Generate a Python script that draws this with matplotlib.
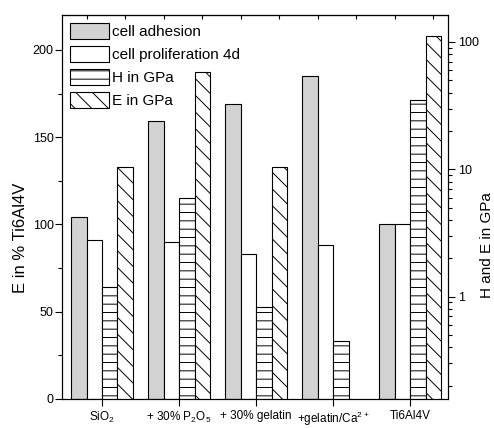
import numpy as np
import matplotlib.pyplot as plt
from matplotlib.patches import Patch
from matplotlib.ticker import MultipleLocator, LogLocator, NullFormatter

plt.rcParams["font.family"] = ["Liberation Sans", "DejaVu Sans"]
plt.rcParams["hatch.linewidth"] = 0.7
plt.rcParams["mathtext.fontset"] = "custom"
plt.rcParams["mathtext.rm"] = "Liberation Sans"

# data
groups = [r"SiO$_2$", r"+ 30% P$_2$O$_5$", "+ 30% gelatin", r"+gelatin/Ca$^{2+}$", "Ti6Al4V"]
adhesion = [104, 159, 169, 185, 100]          # % Ti6Al4V (left axis)
prolif_4d = [91, 90, 83, 88, 100]             # % Ti6Al4V (left axis)
hardness = [1.2, 5.9, 0.83, 0.45, 35]         # GPa (right, log)
modulus = [10.4, 58, 10.4, np.nan, 111]       # GPa (right, log)

x = np.arange(1, len(groups) + 1)
w = 0.2
right_lim = (0.157, 163)

fig = plt.figure(figsize=(4.94, 4.28), dpi=100)
ax = fig.add_axes([0.1255, 0.0678, 0.7815, 0.8972])
ax2 = ax.twinx()

ax.bar(x - 1.5 * w, adhesion, w, color="#d2d2d2", edgecolor="black", lw=0.8, zorder=2)
ax.bar(x - 0.5 * w, prolif_4d, w, color="white", edgecolor="black", lw=0.8, zorder=2)

ax2.set_yscale("log")
ax2.bar(x + 0.5 * w, np.array(hardness) - right_lim[0], w, bottom=right_lim[0],
        color="white", edgecolor="black", hatch="--", lw=0.8)
ax2.bar(x + 1.5 * w, np.array(modulus) - right_lim[0], w, bottom=right_lim[0],
        color="white", edgecolor="black", hatch="\\\\", lw=0.8)

ax.set_xlim(0.48, 5.49)
ax.set_ylim(0, 220)
ax2.set_ylim(*right_lim)

ax.set_xticks(x)
ax.set_xticklabels(groups, fontsize=8.5)
ax.tick_params(axis="x", direction="out", length=5, width=0.8, pad=3)
ax.yaxis.set_major_locator(MultipleLocator(50))
ax.yaxis.set_minor_locator(MultipleLocator(25))
ax.tick_params(axis="y", which="major", direction="out", length=5, width=0.8, labelsize=9, pad=1)
ax.tick_params(axis="y", which="minor", direction="out", length=3, width=0.8)

ax2.yaxis.set_minor_locator(LogLocator(base=10, subs=np.arange(2, 10), numticks=20))
ax2.yaxis.set_minor_formatter(NullFormatter())
ax2.set_yticks([1, 10, 100])
ax2.set_yticklabels(["1", "10", "100"])
ax2.tick_params(axis="y", which="major", direction="out", length=5, width=0.8, labelsize=9, pad=2)
ax2.tick_params(axis="y", which="minor", direction="out", length=3, width=0.8)

# top inward ticks
top = ax.secondary_xaxis("top")
top.set_xticks(np.arange(0.8, 5.4, 0.5), labels=[])
top.tick_params(direction="in", length=3, width=0.8)

for a in (ax, ax2):
    for s in a.spines.values():
        s.set_linewidth(0.8)

ax.set_ylabel("E in % Ti6Al4V", fontsize=12, labelpad=3)
ax.yaxis.label.set_y(0.42)
ax2.set_ylabel("H and E in GPa", fontsize=11, labelpad=1)
ax2.yaxis.label.set_y(0.40)

handles = [
    Patch(facecolor="#d2d2d2", edgecolor="black", lw=0.8, label="cell adhesion"),
    Patch(facecolor="white", edgecolor="black", lw=0.8, label="cell proliferation 4d"),
    Patch(facecolor="white", edgecolor="black", lw=0.8, hatch="--", label="H in GPa"),
    Patch(facecolor="white", edgecolor="black", lw=0.8, hatch="\\\\", label="E in GPa"),
]
ax2.legend(handles=handles, loc="upper left", frameon=False, fontsize=11,
           handlelength=2.6, handleheight=1.25, labelspacing=0.45,
           handletextpad=0.2, borderaxespad=0.3, borderpad=0.2)

fig.savefig("out.png", dpi=100)
